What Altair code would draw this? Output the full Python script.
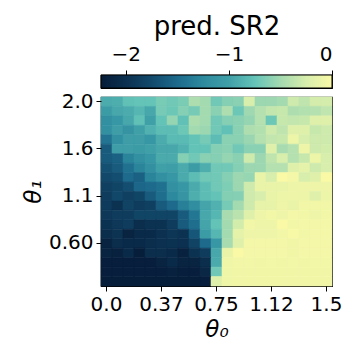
import json
import altair as alt
import pandas as pd

# ---- tick labels ----
theta0_ticks = [0, 5, 10, 15, 20]
theta0_labels = ["0.0", "0.37", "0.75", "1.12", "1.5"]
theta1_ticks = [0, 5, 10, 15]
theta1_labels = ["2.0", "1.6", "1.1", "0.60"]
cbar_ticks = [-2, -1, 0]

# ---- colour map (reversed yellow-green-blue as seen in the colourbar) ----
stop_values = [-2.24, -2.0, -1.75, -1.5, -1.25, -1.0, -0.75, -0.5, -0.25, 0.0]
stop_colors = ["#061c38", "#0c3050", "#124a6c", "#1d6a8c", "#2d8a9e",
               "#40a0a8", "#64c4b8", "#a4dab0", "#d8eeac", "#f9f9a6"]

# ---- predicted SR2, rows from top (theta1 = 2.0) to bottom, 21 theta0 columns ----
row0 = [-0.92, -0.90, -0.77, -0.75, -0.75, -0.67, -0.70, -0.66, -0.45, -0.50, -0.70, -0.62, -0.60, -0.25, -0.53, -0.53, -0.50, -0.30, -0.37, -0.27, -0.27]
row1 = [-1.05, -0.95, -0.92, -0.85, -0.95, -0.68, -0.72, -0.62, -0.68, -0.50, -0.60, -0.45, -0.72, -0.52, -0.42, -0.35, -0.33, -0.45, -0.43, -0.42, -0.36]
row2 = [-1.18, -1.10, -0.95, -0.77, -1.00, -0.76, -0.56, -0.77, -0.46, -0.50, -0.70, -0.62, -0.60, -0.56, -0.42, -0.72, -0.33, -0.35, -0.33, -0.20, -0.20]
row3 = [-1.18, -1.03, -1.15, -1.00, -0.88, -0.80, -0.80, -0.72, -0.50, -0.53, -0.70, -0.77, -0.60, -0.45, -0.43, -0.30, -0.37, -0.20, -0.20, -0.33, -0.30]
row4 = [-1.42, -1.18, -1.03, -1.03, -1.10, -0.92, -0.82, -0.82, -0.76, -0.68, -0.80, -0.60, -0.60, -0.54, -0.42, -0.35, -0.33, -0.10, -0.25, -0.30, -0.30]
row5 = [-1.62, -1.03, -1.03, -1.05, -1.00, -0.95, -0.95, -0.88, -0.76, -0.76, -0.62, -0.60, -0.70, -0.60, -0.60, -0.20, -0.48, -0.42, -0.08, -0.30, -0.28]
row6 = [-1.62, -1.57, -1.30, -1.18, -1.10, -0.93, -0.93, -0.62, -0.70, -0.60, -0.62, -0.56, -0.60, -0.30, -0.53, -0.37, -0.25, -0.42, -0.33, -0.10, -0.25]
row7 = [-1.70, -1.62, -1.45, -1.30, -1.18, -1.00, -1.02, -0.93, -1.05, -0.90, -0.70, -0.70, -0.62, -0.53, -0.53, -0.42, -0.42, -0.20, -0.15, -0.30, -0.25]
row8 = [-1.76, -1.73, -1.50, -1.57, -1.30, -1.18, -1.10, -0.93, -0.80, -0.70, -0.70, -0.62, -0.53, -0.55, -0.12, -0.25, 0.00, -0.04, -0.25, -0.20, 0.00]
row9 = [-1.85, -1.80, -1.72, -1.52, -1.50, -1.45, -1.18, -1.10, -0.93, -0.80, -0.70, -0.65, -0.53, -0.30, -0.12, -0.12, -0.12, -0.10, -0.08, -0.08, -0.08]
row10 = [-1.88, -1.78, -1.85, -1.80, -1.62, -1.47, -1.25, -1.12, -0.90, -0.80, -0.76, -0.63, -0.62, -0.30, -0.25, -0.12, -0.10, -0.08, -0.10, -0.20, -0.10]
row11 = [-1.90, -1.98, -1.82, -1.88, -1.85, -1.62, -1.50, -1.33, -1.20, -0.97, -0.88, -0.68, -0.50, -0.30, -0.14, -0.14, -0.08, -0.12, -0.05, -0.05, -0.05]
row12 = [-1.93, -1.88, -1.88, -1.80, -1.80, -1.80, -1.80, -1.62, -1.40, -0.95, -0.85, -0.48, -0.40, -0.20, -0.08, -0.05, -0.08, -0.04, -0.05, -0.08, -0.05]
row13 = [-1.98, -1.93, -1.88, -2.03, -1.98, -1.98, -1.88, -1.62, -1.47, -0.97, -0.76, -0.50, -0.28, -0.05, -0.08, -0.08, 0.00, -0.05, -0.04, -0.04, -0.04]
row14 = [-2.03, -1.97, -2.15, -2.07, -2.07, -2.00, -1.95, -1.98, -1.65, -1.05, -0.85, -0.50, -0.16, -0.08, -0.08, -0.08, -0.05, -0.01, -0.05, -0.04, -0.04]
row15 = [-2.15, -2.03, -2.07, -2.07, -2.03, -2.00, -1.98, -2.00, -1.82, -1.50, -1.10, -0.48, -0.20, -0.04, -0.04, -0.04, -0.04, -0.06, -0.04, -0.04, -0.04]
row16 = [-2.15, -2.18, -2.07, -2.22, -2.03, -2.03, -2.07, -2.18, -1.98, -1.88, -0.95, -0.12, 0.00, -0.04, -0.04, -0.04, -0.04, -0.06, -0.04, -0.04, -0.04]
row17 = [-2.20, -2.20, -2.20, -2.20, -2.20, -2.15, -2.07, -2.15, -2.15, -2.03, -0.93, -0.07, -0.05, -0.05, -0.06, -0.05, -0.06, -0.05, -0.06, -0.05, -0.05]
row18 = [-2.20, -2.20, -2.20, -2.20, -2.20, -2.20, -2.18, -2.20, -2.20, -2.10, -0.70, -0.07, -0.06, -0.06, -0.06, -0.06, -0.06, -0.06, -0.06, -0.06, -0.06]
row19 = [-2.22, -2.22, -2.22, -2.22, -2.22, -2.22, -2.22, -2.22, -2.22, -2.20, -0.20, -0.07, -0.06, -0.06, -0.06, -0.06, -0.06, -0.06, -0.06, -0.06, -0.06]

grid = [row0, row1, row2, row3, row4, row5, row6, row7, row8, row9,
        row10, row11, row12, row13, row14, row15, row16, row17, row18, row19]

records = [{"col": c, "row": r, "sr2": v}
           for r, vals in enumerate(grid) for c, v in enumerate(vals)]
df = pd.DataFrame(records)

vmin, vmax = stop_values[0], stop_values[-1]
color_scale = alt.Scale(domain=stop_values, range=stop_colors, interpolate="rgb")

FONT = "DejaVu Sans"
W, H = 231, 189

x_label_expr = json.dumps(theta0_labels) + "[datum.value / 5]"
y_label_expr = json.dumps(theta1_labels) + "[datum.value / 5]"

heat = alt.Chart(df).mark_rect(strokeWidth=0.6).encode(
    x=alt.X("col:O",
            scale=alt.Scale(paddingInner=0, paddingOuter=0),
            axis=alt.Axis(values=theta0_ticks, labelExpr=x_label_expr, labelAngle=0,
                          title="θ₀", titleFontStyle="italic", titlePadding=4,
                          labelPadding=3)),
    y=alt.Y("row:O",
            scale=alt.Scale(paddingInner=0, paddingOuter=0),
            axis=alt.Axis(values=theta1_ticks, labelExpr=y_label_expr,
                          title="θ₁", titleFontStyle="italic", titlePadding=3,
                          labelPadding=3)),
    color=alt.Color("sr2:Q", scale=color_scale, legend=None),
    stroke=alt.Stroke("sr2:Q", scale=color_scale, legend=None),
).properties(width=W, height=H)

cb_df = pd.DataFrame({"lo": [vmin], "hi": [vmax]})
grad = alt.Gradient(
    gradient="linear",
    stops=[alt.GradientStop(offset=(v - vmin) / (vmax - vmin), color=c)
           for v, c in zip(stop_values, stop_colors)],
    x1=0, x2=1, y1=0, y2=0,
)
cbar = alt.Chart(cb_df).mark_rect(fill=grad, stroke="black", strokeWidth=1).encode(
    x=alt.X("lo:Q",
            scale=alt.Scale(domain=[vmin, vmax], nice=False, zero=False),
            axis=alt.Axis(orient="top", values=cbar_ticks, format="d",
                          title="pred. SR2", titleFontSize=26, titlePadding=5,
                          labelPadding=6, domain=False, grid=False)),
    x2="hi",
).properties(width=W, height=13)

chart = alt.vconcat(cbar, heat, spacing=0).properties(
    padding={"left": 21, "top": 12, "right": 5, "bottom": 5},
    background="white",
).configure_view(
    stroke="black", strokeWidth=1.2
).configure_axis(
    labelFont=FONT, titleFont=FONT, labelFontSize=20, titleFontSize=23,
    labelColor="black", titleColor="black", titleFontWeight="normal",
    tickColor="black", tickSize=5, tickWidth=1, domain=False, grid=False,
)

chart.save("out.html", embed_options={"renderer": "svg", "actions": False})
